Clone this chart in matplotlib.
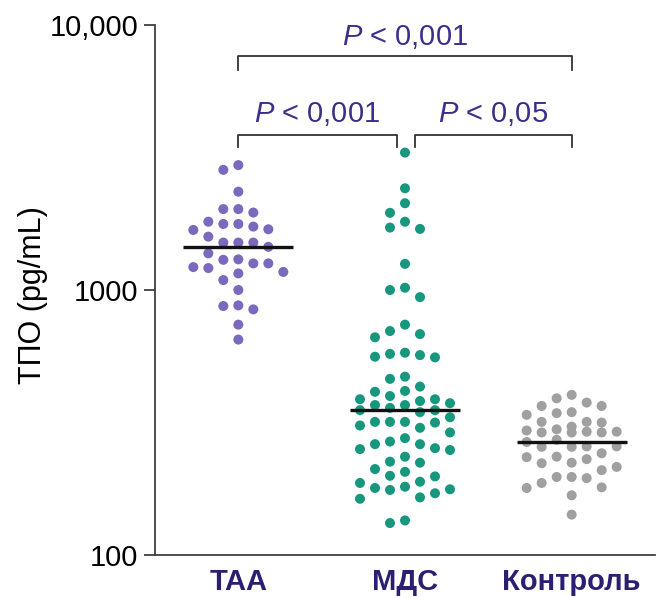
import numpy as np
import matplotlib
matplotlib.use("Agg")
import matplotlib.pyplot as plt
from matplotlib.ticker import NullLocator

plt.rcParams['font.family'] = ['Liberation Sans', 'DejaVu Sans']
plt.rcParams['mathtext.fontset'] = 'custom'
plt.rcParams['mathtext.it'] = 'Liberation Sans:italic'
plt.rcParams['mathtext.rm'] = 'Liberation Sans'

# ---------------- data (pg/mL) ----------------
categories = ['ТАА', 'МДС', 'Контроль']
taa = [2960, 2840, 2350, 2020, 2020, 1960, 1810, 1775, 1775, 1735, 1695, 1685,
       1590, 1510, 1510, 1510, 1455, 1375, 1305, 1300, 1260, 1260, 1220, 1210,
       1170, 1155, 1090, 1000, 875, 870, 845, 740, 650]
mds = [3300, 2420, 2125, 1955, 1810, 1720, 1700, 1255, 1020, 1000, 940, 740,
       700, 682, 663, 580, 574, 568, 560, 557, 471, 462, 432, 416, 413, 398,
       387, 387, 381, 374, 368, 368, 359, 352, 352, 346, 331, 318, 318, 318,
       316, 308, 302, 290, 276, 268, 262, 262, 253, 251, 249, 235, 225, 223,
       211, 206, 199, 198, 189, 187, 181, 179, 177, 176, 171, 165, 163, 135, 132]
control = [402, 390, 376, 365, 365, 346, 343, 338, 318, 318, 316, 305, 298, 295,
           292, 292, 290, 290, 290, 272, 267, 257, 256, 256, 257, 242, 235, 234,
           230, 223, 222, 215, 209, 197, 197, 195, 187, 180, 179, 168, 142]
groups = [taa, mds, control]
pvals = ['< 0,001', '< 0,001', '< 0,05']   # top (0-2), left (0-1), right (1-2)
ytick_vals = [100, 1000, 10000]
ytick_labels = ['100', '1000', '10,000']

colors = ['#7b69bd', '#17987e', '#a0a0a0']
text_col = '#3b2f8e'
xlab_col = '#2c1f72'

fig = plt.figure(figsize=(6.65, 5.98), dpi=100)
ax = fig.add_axes([155/665, 43/598, 500/665, 530/598])
ax.set_yscale('log')
ax.set_ylim(100, 10000)
ax.set_xlim(-0.5, 2.5)


def swarm_x(values, center, col_px=15.0, min_px=14.0):
    vals = np.asarray(values, dtype=float)
    ypx = ax.transData.transform(np.column_stack([np.full(len(vals), center), vals]))[:, 1]
    px_unit = ax.transData.transform((1, 1))[0] - ax.transData.transform((0, 1))[0]
    order = np.argsort(-vals, kind='stable')
    cols = {}
    offs = np.zeros(len(vals))
    cands = [0, -1, 1, -2, 2, -3, 3]
    for i in order:
        chosen = None
        best_gap, fallback = -1, 0
        for c in cands:
            ys = cols.get(c, [])
            gap = min([abs(ypx[i] - y) for y in ys], default=1e9)
            if gap >= min_px:
                chosen = c
                break
            if gap > best_gap:
                best_gap, fallback = gap, c
        if chosen is None:
            chosen = fallback
        cols.setdefault(chosen, []).append(ypx[i])
        offs[i] = chosen
    return center + offs * col_px / px_unit


for k, vals in enumerate(groups):
    xs = swarm_x(vals, k)
    ax.scatter(xs, vals, s=52, color=colors[k], edgecolors='none', zorder=2)
    med = np.median(vals)
    ax.plot([k - 0.33, k + 0.33], [med, med], color='#111111', lw=2.4,
            solid_capstyle='butt', zorder=3)

# significance brackets
bcol = '#333333'
def bracket(x0, x1, ytop, ybot, label, ytext):
    ax.plot([x0, x0, x1, x1], [ybot, ytop, ytop, ybot], color=bcol, lw=1.3,
            clip_on=False, zorder=4)
    ax.text((x0 + x1) / 2, ytext, r'$P$ ' + label, ha='center', va='baseline',
            fontsize=21, color=text_col, clip_on=False)

bracket(0, 2, 7640, 6765, pvals[0], 8400)
bracket(0, 0.95, 3846, 3467, pvals[1], 4300)
bracket(1.06, 2, 3846, 3467, pvals[2], 4300)

# axes styling
for s in ['top', 'right']:
    ax.spines[s].set_visible(False)
for s in ['left', 'bottom']:
    ax.spines[s].set_color('#404040')
    ax.spines[s].set_linewidth(1.3)

ax.set_yticks(ytick_vals)
ax.set_yticklabels(ytick_labels)
ax.yaxis.set_minor_locator(NullLocator())
ax.tick_params(axis='y', length=8, width=1.3, color='#404040', pad=4,
               labelsize=21, labelcolor='black')
ax.set_xticks(range(len(categories)))
ax.set_xticklabels(categories, fontweight='bold', color=xlab_col)
ax.tick_params(axis='x', length=0, pad=9, labelsize=21)

fig.text(33/665, 1 - 295/598, 'ТПО (pg/mL)', rotation=90, ha='center',
         va='center', fontsize=22, color='black')

fig.savefig('out.png', dpi=100)
